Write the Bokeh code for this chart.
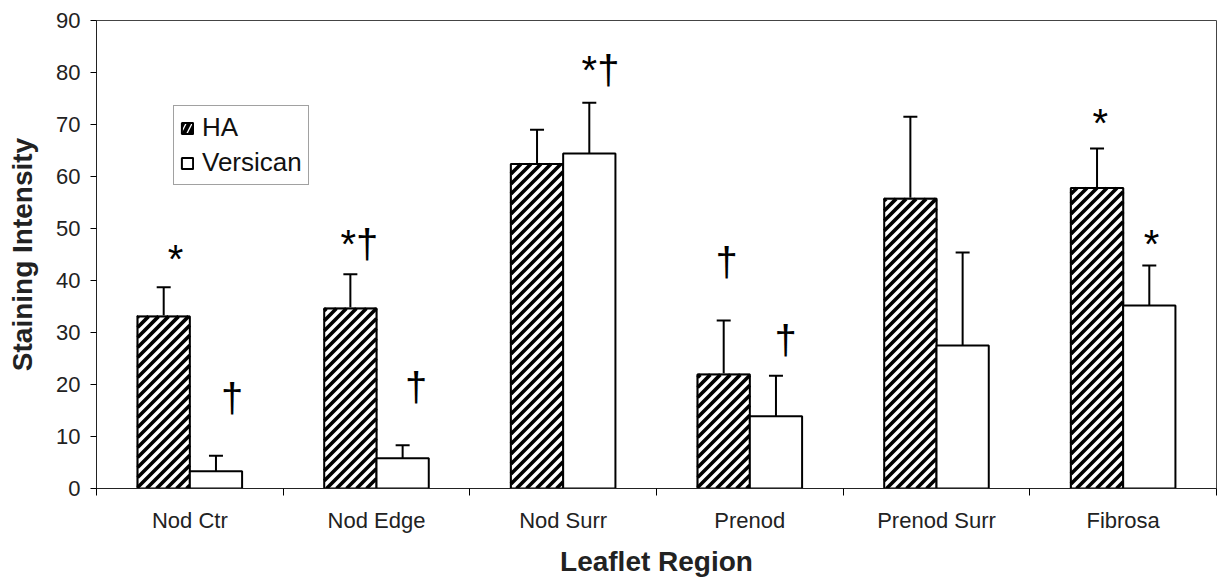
from bokeh.plotting import figure
from bokeh.models import (ColumnDataSource, Range1d, FixedTicker, Whisker, TeeHead,
                          Legend, LegendItem)
from bokeh.embed import file_html
from bokeh.resources import INLINE
from bokeh.core.properties import value

# ---------------- data ----------------
regions = ["Nod Ctr", "Nod Edge", "Nod Surr", "Prenod", "Prenod Surr", "Fibrosa"]
ha_mean = [33.1, 34.6, 62.4, 21.9, 55.7, 57.8]
ha_sd = [5.6, 6.6, 6.6, 10.4, 15.8, 7.6]
vers_mean = [3.3, 5.8, 64.4, 13.9, 27.5, 35.2]
vers_sd = [3.0, 2.5, 9.8, 7.8, 17.9, 7.7]
ha_marks = ["*", "*\u2020", "", "\u2020", "", "*"]
vers_marks = ["\u2020", "\u2020", "*\u2020", "\u2020", "", "*"]
ha_mark_level = [44.2, 47.0, None, 43.6, None, 70.2]
vers_mark_level = [17.4, 19.5, 80.5, 28.6, None, 47.1]
ha_mark_shift = [0.063, 0.048, 0.0, 0.015, 0.0, 0.018]
vers_mark_shift = [0.087, 0.072, 0.06, 0.052, 0.0, 0.012]
y_ticks = [0, 10, 20, 30, 40, 50, 60, 70, 80, 90]

BAR_W = 0.28
FONT = "Liberation Sans"
W, H = 1220, 580
BL, BR, BT, BB = 96, 4, 20, 92
Y_MAX = 90

centers = [i + 0.5 for i in range(len(regions))]
ha_x = [c - BAR_W / 2 for c in centers]
vers_x = [c + BAR_W / 2 for c in centers]

p = figure(width=W, height=H, output_backend="svg", toolbar_location=None,
           x_range=Range1d(0, len(regions)), y_range=Range1d(0, Y_MAX),
           min_border_left=BL, min_border_right=BR, min_border_top=BT,
           min_border_bottom=BB)
p.background_fill_color = "white"
p.border_fill_color = "white"
p.outline_line_color = "#444444"
p.outline_line_width = 1
p.xgrid.grid_line_color = None
p.ygrid.grid_line_color = None

ha_src = ColumnDataSource(dict(x=ha_x, top=ha_mean,
                               upper=[m + s for m, s in zip(ha_mean, ha_sd)]))
vers_src = ColumnDataSource(dict(x=vers_x, top=vers_mean,
                                 upper=[m + s for m, s in zip(vers_mean, vers_sd)]))

for src in (ha_src, vers_src):
    w = Whisker(base="x", lower="top", upper="upper", source=src, dimension="height",
                line_color="black", line_width=2, lower_head=None,
                upper_head=TeeHead(size=14, line_width=2, line_color="black"))
    p.add_layout(w)

# legend swatch for HA (hatched); fully covered by the white fill drawn next
ha_swatch = p.vbar(x="x", top="top", width=BAR_W, source=ha_src, fill_color="white",
                   line_color="black", line_width=2, hatch_pattern="/",
                   hatch_color="black", hatch_scale=12, hatch_weight=4)

# HA bars: white fill, then 45-degree "/" stripes clipped to each bar, then outline
ha_fill = p.vbar(x="x", top="top", width=BAR_W, source=ha_src, fill_color="white",
                 line_color="white", line_width=2)

kx = (W - BL - BR) / len(regions)   # screen px per x unit
ky = (H - BT - BB) / Y_MAX          # screen px per y unit
PERIOD = 10.0                       # stripe period in px (horizontal)
sx0, sy0, sx1, sy1 = [], [], [], []
for xc, top in zip(ha_x, ha_mean):
    X0, X1 = (xc - BAR_W / 2) * kx, (xc + BAR_W / 2) * kx
    Y0, Y1 = 0.0, top * ky
    k = int((Y0 - X1) // PERIOD) - 1
    while True:
        c = k * PERIOD            # line: Y = X + c
        k += 1
        if c > Y1 - X0:
            break
        ya_ = max(Y0, X0 + c)
        yb_ = min(Y1, X1 + c)
        if yb_ - ya_ <= 0.5:
            continue
        sx0.append((ya_ - c) / kx); sy0.append(ya_ / ky)
        sx1.append((yb_ - c) / kx); sy1.append(yb_ / ky)
p.segment(x0=sx0, y0=sy0, x1=sx1, y1=sy1, line_color="black", line_width=3.6,
          line_cap="butt")
ha_line = p.vbar(x="x", top="top", width=BAR_W, source=ha_src, fill_color=None,
                 line_color="black", line_width=2)

vers_r = p.vbar(x="x", top="top", width=BAR_W, source=vers_src, fill_color="white",
                line_color="black", line_width=2)

# significance marks
mx, my, mt = [], [], []
for xs, marks, levels, shifts in ((ha_x, ha_marks, ha_mark_level, ha_mark_shift),
                                  (vers_x, vers_marks, vers_mark_level, vers_mark_shift)):
    for x, t, lv, sh in zip(xs, marks, levels, shifts):
        if t and lv is not None:
            mx.append(x + sh)
            my.append(lv)
            mt.append(t)
p.text(x=mx, y=my, text=mt, text_font=value(FONT), text_font_size="40px",
       text_align="center", text_baseline="alphabetic", text_color="black")

# axes
xa = p.xaxis[0]
xa.ticker = FixedTicker(ticks=centers, minor_ticks=list(range(len(regions) + 1)))
xa.major_label_overrides = {c: r for c, r in zip(centers, regions)}
xa.minor_tick_line_color = "black"
xa.minor_tick_out = 7
xa.minor_tick_in = 0
xa.major_label_standoff = 12
xa.axis_label = "Leaflet Region"
xa.axis_label_standoff = 10

ya = p.yaxis[0]
ya.ticker = FixedTicker(ticks=y_ticks)
ya.minor_tick_line_color = None
ya.major_tick_out = 6
ya.major_tick_in = 0
ya.major_label_standoff = 10
ya.axis_label = "Staining Intensity"
ya.axis_label_standoff = 15

for ax in (xa, ya):
    ax.axis_line_color = "#222222"
    ax.axis_line_width = 1
    ax.major_label_text_font = FONT
    ax.major_label_text_font_size = "22px"
    ax.major_label_text_color = "#222222"
    ax.axis_label_text_font = FONT
    ax.axis_label_text_font_size = "28px"
    ax.axis_label_text_font_style = "bold"
    ax.axis_label_text_color = "#222222"
ya.major_tick_line_color = "black"
xa.major_tick_line_color = None

lg = Legend(items=[LegendItem(label="HA", renderers=[ha_swatch]),
                   LegendItem(label="Versican", renderers=[vers_r])],
            location=(77, 303))
lg.label_text_font = FONT
lg.label_text_font_size = "26px"
lg.label_text_color = "#111111"
lg.glyph_width = 14
lg.glyph_height = 14
lg.label_standoff = 8
lg.label_height = 28
lg.spacing = 4
lg.padding = 6
lg.margin = 0
lg.border_line_color = "#444444"
lg.border_line_width = 1
lg.background_fill_color = "white"
lg.background_fill_alpha = 1
p.add_layout(lg, "center")

open("out.html", "w").write(file_html(p, INLINE))
